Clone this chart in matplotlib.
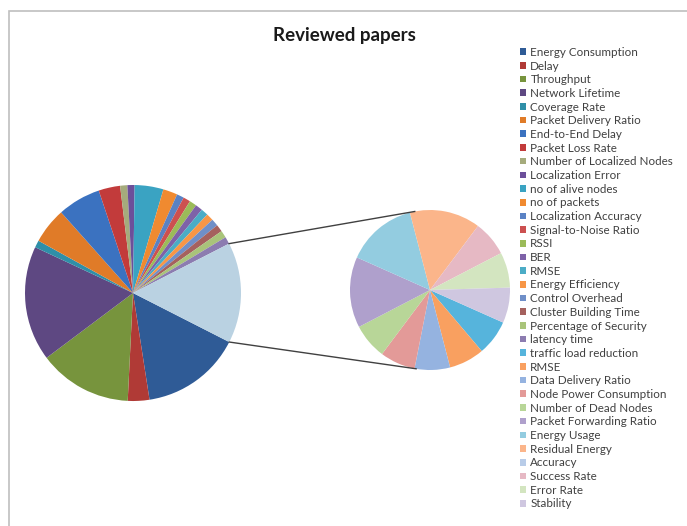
#!/usr/bin/env python3

import numpy as np
import matplotlib
matplotlib.use('Agg')
import matplotlib.pyplot as plt
from matplotlib.patches import Rectangle

plt.rcParams['font.family'] = ['Lato', 'DejaVu Sans']

# main pie: first 22 metrics, the rest are grouped into "Other"
MAIN_LABELS = [
    'Energy Consumption', 'Delay', 'Throughput', 'Network Lifetime',
    'Coverage Rate', 'Packet Delivery Ratio', 'End-to-End Delay',
    'Packet Loss Rate', 'Number of Localized Nodes', 'Localization Error',
    'no of alive nodes', 'no of packets', 'Localization Accuracy',
    'Signal-to-Noise Ratio', 'RSSI', 'BER', 'RMSE', 'Energy Efficiency',
    'Control Overhead', 'Cluster Building Time', 'Percentage of Security',
    'latency time',
]
MAIN_VALUES = [14, 3, 13, 16, 1, 5, 6, 3, 1, 1, 4, 2, 1, 1, 1, 1, 1, 1, 1, 1, 1, 1]
MAIN_COLORS = [
    '#2f5b96', '#b03a36', '#77943d', '#5e4882', '#2f8fa8', '#e07b28',
    '#3b72c0', '#c23b3b', '#a5ab7c', '#6c4f9a', '#3aa3c2', '#f08a30',
    '#5a82c4', '#cc5050', '#9bbb59', '#7e62a8', '#4bacc6', '#f79646',
    '#6f8fc8', '#a5615e', '#a9c47a', '#8c7cb0',
]

# secondary pie (breakdown of "Other")
SUB_LABELS = [
    'traffic load reduction', 'RMSE', 'Data Delivery Ratio',
    'Node Power Consumption', 'Number of Dead Nodes',
    'Packet Forwarding Ratio', 'Energy Usage', 'Residual Energy',
    'Accuracy', 'Success Rate', 'Error Rate', 'Stability',
]
SUB_VALUES = [1, 1, 1, 1, 1, 2, 2, 2, 0, 1, 1, 1]
SUB_COLORS = [
    '#56b4dc', '#f9a060', '#95b3e0', '#e39a98', '#b8d698', '#afa0cc',
    '#93cce0', '#fbb58a', '#b8cce8', '#e6b9c4', '#d3e5c0', '#cfc7e0',
]
OTHER_COLOR = '#bad2e2'

W, H = 687, 526
fig = plt.figure(figsize=(W / 100, H / 100), dpi=100)
ax = fig.add_axes([0, 0, 1, 1])

main_c, main_r = (133, 233), 108
sub_c, sub_r = (430, 236), 80

other = sum(SUB_VALUES)
main_wedges, _ = ax.pie(MAIN_VALUES + [other], colors=MAIN_COLORS + [OTHER_COLOR],
                        center=main_c, radius=main_r, startangle=-27,
                        counterclock=False, wedgeprops=dict(linewidth=0),
                        frame=True)
sub_wedges, _ = ax.pie(SUB_VALUES, colors=SUB_COLORS, center=sub_c,
                       radius=sub_r, startangle=-24, counterclock=False,
                       wedgeprops=dict(linewidth=0), frame=True)
ax.set_xlim(0, W)
ax.set_ylim(0, H)
ax.set_aspect('equal')
ax.axis('off')

# chart frame (only left/top edges show in the crop)
ax.add_patch(Rectangle((9, -10), W, H - 11 + 10, fill=False,
                       edgecolor='#bfbfbf', linewidth=1.2))

# connector lines from the "Other" slice to the secondary pie
ow = main_wedges[-1]
for a_main, a_sub in [(ow.theta1, -100), (ow.theta2, 101)]:
    t1, t2 = np.deg2rad(a_main), np.deg2rad(a_sub)
    x0 = main_c[0] + main_r * np.cos(t1)
    y0 = main_c[1] + main_r * np.sin(t1)
    x1 = sub_c[0] + sub_r * np.cos(t2)
    y1 = sub_c[1] + sub_r * np.sin(t2)
    ax.plot([x0, x1], [y0, y1], color='#404040', linewidth=1.0)

ax.text(344, H - 36, 'Reviewed papers', ha='center', va='center',
        fontsize=13.5, fontweight='bold', color='#1a1a1a')

handles = list(main_wedges[:-1]) + list(sub_wedges)
labels = MAIN_LABELS + SUB_LABELS
leg = ax.legend(handles, labels, loc='upper left',
                bbox_to_anchor=(514 / W, 1 - 41 / H), frameon=False,
                fontsize=8.4, labelspacing=0.23, handlelength=0.5,
                handleheight=0.5, handletextpad=0.4, borderpad=0)
for t in leg.get_texts():
    t.set_color('#404040')

fig.savefig('out.png', dpi=100)
